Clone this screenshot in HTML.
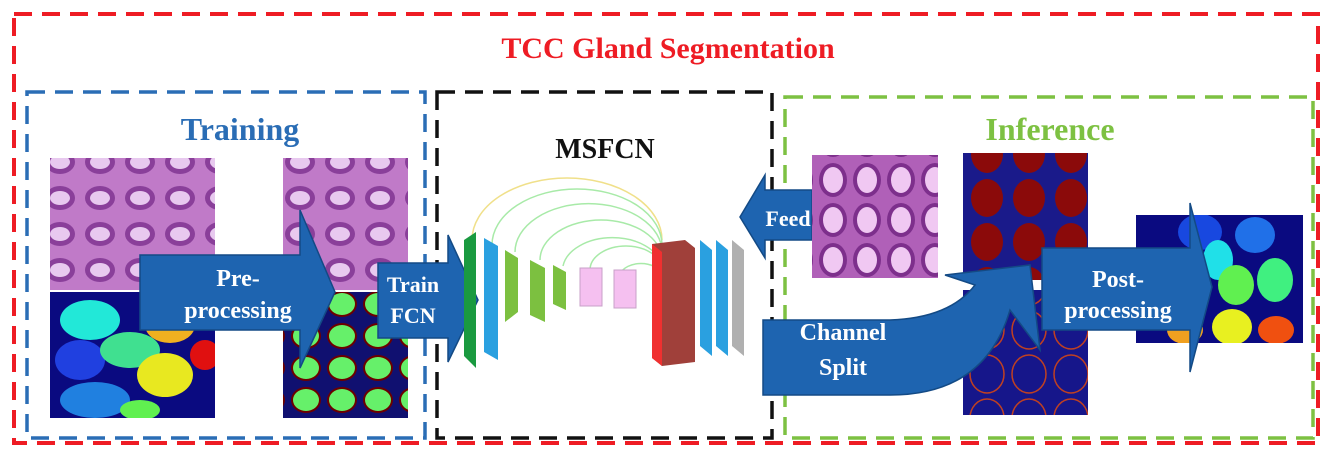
<!DOCTYPE html>
<html><head><meta charset="utf-8"><style>
html,body{margin:0;padding:0;background:#fff;width:1332px;height:463px;overflow:hidden}
svg{display:block;font-family:"Liberation Serif",serif;font-weight:bold}
</style></head><body>
<svg width="1332" height="463" viewBox="0 0 1332 463">
<defs>
<pattern id="histo" width="40" height="36" patternUnits="userSpaceOnUse">
<rect width="40" height="36" fill="#c07ac8"/>
<ellipse cx="20" cy="18" rx="15" ry="12" fill="#8a3f9a"/>
<ellipse cx="20" cy="18" rx="10" ry="7" fill="#e8c9ef"/>
</pattern>
<pattern id="histo2" width="34" height="40" patternUnits="userSpaceOnUse">
<rect width="34" height="40" fill="#b060b8"/>
<ellipse cx="17" cy="20" rx="14" ry="17" fill="#7d2f8c"/>
<ellipse cx="17" cy="20" rx="10" ry="13" fill="#f0c8f2"/>
</pattern>
<pattern id="redblue" width="42" height="44" patternUnits="userSpaceOnUse">
<rect width="42" height="44" fill="#1a1a8a"/>
<ellipse cx="21" cy="22" rx="16" ry="19" fill="#8b0a0a"/>
</pattern>
<pattern id="ringblue" width="42" height="44" patternUnits="userSpaceOnUse">
<rect width="42" height="44" fill="#16168a"/>
<ellipse cx="21" cy="22" rx="17" ry="19" fill="none" stroke="#c04020" stroke-width="1.5"/>
</pattern>
<pattern id="greenseg" width="36" height="32" patternUnits="userSpaceOnUse">
<rect width="36" height="32" fill="#101070"/>
<ellipse cx="18" cy="16" rx="15" ry="13" fill="#6b0000"/>
<ellipse cx="18" cy="16" rx="13" ry="11" fill="#66f06a"/>
</pattern>
<clipPath id="clipL"><rect x="50" y="292" width="165" height="126"/></clipPath>
<clipPath id="clipR"><rect x="1136" y="215" width="167" height="128"/></clipPath>
</defs>

<rect x="14" y="14" width="1304" height="429" fill="none" stroke="#ee1c24" stroke-width="4" stroke-dasharray="18 10"/>
<text x="668" y="58" text-anchor="middle" font-size="30" fill="#ee1c24">TCC Gland Segmentation</text>

<rect x="27" y="92" width="398" height="346" fill="none" stroke="#2a6db5" stroke-width="3.5" stroke-dasharray="18 10"/>
<text x="240" y="140" text-anchor="middle" font-size="32" fill="#2a6db5">Training</text>

<rect x="437" y="92" width="335" height="346" fill="none" stroke="#111" stroke-width="3.5" stroke-dasharray="18 10"/>
<text x="605" y="158" text-anchor="middle" font-size="28" fill="#111">MSFCN</text>

<rect x="785" y="97" width="528" height="341" fill="none" stroke="#7dc142" stroke-width="3.5" stroke-dasharray="18 10"/>
<text x="1050" y="140" text-anchor="middle" font-size="32" fill="#7dc142">Inference</text>

<rect x="50" y="158" width="165" height="132" fill="url(#histo)"/>
<g clip-path="url(#clipL)">
<rect x="50" y="292" width="165" height="126" fill="#0a0a80"/>
<ellipse cx="90" cy="320" rx="30" ry="20" fill="#22e8d8"/>
<ellipse cx="80" cy="360" rx="25" ry="20" fill="#2040e0"/>
<ellipse cx="130" cy="350" rx="30" ry="18" fill="#40e090"/>
<ellipse cx="170" cy="325" rx="25" ry="18" fill="#f0b020"/>
<ellipse cx="165" cy="375" rx="28" ry="22" fill="#e8e820"/>
<ellipse cx="95" cy="400" rx="35" ry="18" fill="#2080e0"/>
<ellipse cx="140" cy="410" rx="20" ry="10" fill="#60f050"/>
<ellipse cx="205" cy="355" rx="15" ry="15" fill="#e01010"/>
</g>
<rect x="283" y="158" width="125" height="132" fill="url(#histo)"/>
<rect x="283" y="292" width="125" height="126" fill="url(#greenseg)"/>

<g>
<polygon points="140,255 300,255 300,210 335,292 300,368 300,330 140,330" fill="#1e64b0" stroke="#134a85" stroke-width="1.5"/>
<text x="238" y="286" text-anchor="middle" font-size="24" fill="#fff">Pre-</text>
<text x="238" y="318" text-anchor="middle" font-size="24" fill="#fff">processing</text>
</g>
<g>
<polygon points="378,263 448,263 448,235 478,300 448,362 448,338 378,338" fill="#1e64b0" stroke="#134a85" stroke-width="1.5"/>
<text x="413" y="292" text-anchor="middle" font-size="22" fill="#fff">Train</text>
<text x="413" y="323" text-anchor="middle" font-size="22" fill="#fff">FCN</text>
</g>

<g fill="none" stroke-width="1.5">
<path d="M472,240 A95,62 0 0 1 662,240" stroke="#f0e08a"/>
<path d="M492,245 A85,56 0 0 1 662,245" stroke="#a8eaa8"/>
<path d="M515,252 A73,48 0 0 1 662,252" stroke="#a8eaa8"/>
<path d="M540,260 A61,40 0 0 1 662,260" stroke="#a8eaa8"/>
<path d="M563,266 A50,33 0 0 1 662,266" stroke="#a8eaa8"/>
<path d="M590,270 A36,24 0 0 1 662,270" stroke="#a8eaa8"/>
<path d="M620,274 A22,15 0 0 1 662,274" stroke="#a8eaa8"/>
</g>
<g>
<polygon points="464,240 476,232 476,368 464,356" fill="#1a9a40"/>
<polygon points="484,238 498,246 498,360 484,352" fill="#2aa0e0"/>
<polygon points="505,250 518,258 518,312 505,322" fill="#7cc040"/>
<polygon points="530,260 545,268 545,322 530,315" fill="#7cc040"/>
<polygon points="553,265 566,272 566,310 553,304" fill="#7cc040"/>
<rect x="580" y="268" width="22" height="38" fill="#f5c0f0" stroke="#c8a0c8"/>
<rect x="614" y="270" width="22" height="38" fill="#f5c0f0" stroke="#c8a0c8"/>
<polygon points="652,244 685,240 695,248 695,362 662,366 652,358" fill="#a0403a"/>
<polygon points="652,244 662,252 662,366 652,358" fill="#f03030"/>
<polygon points="700,240 712,250 712,356 700,346" fill="#2aa0e0"/>
<polygon points="716,240 728,250 728,356 716,346" fill="#2aa0e0"/>
<polygon points="732,240 744,250 744,356 732,346" fill="#b0b0b0"/>
</g>

<g>
<polygon points="812,190 765,190 765,175 740,217 765,258 765,240 812,240" fill="#1e64b0" stroke="#134a85" stroke-width="1.5"/>
<text x="788" y="226" text-anchor="middle" font-size="22" fill="#fff">Feed</text>
</g>
<rect x="812" y="155" width="126" height="123" fill="url(#histo2)"/>
<rect x="963" y="153" width="125" height="127" fill="url(#redblue)"/>
<rect x="963" y="290" width="125" height="125" fill="url(#ringblue)"/>
<g>
<path d="M763,320 L890,320 Q950,318 975,285 L945,275 L1030,265 L1040,350 L1010,310 Q985,395 890,395 L763,395 Z" fill="#1e64b0" stroke="#134a85" stroke-width="1.5"/>
<text x="843" y="340" text-anchor="middle" font-size="24" fill="#fff">Channel</text>
<text x="843" y="375" text-anchor="middle" font-size="24" fill="#fff">Split</text>
</g>
<g clip-path="url(#clipR)">
<rect x="1136" y="215" width="167" height="128" fill="#0a0a80"/>
<ellipse cx="1200" cy="232" rx="22" ry="18" fill="#1848e0"/>
<ellipse cx="1255" cy="235" rx="20" ry="18" fill="#2070e8"/>
<ellipse cx="1218" cy="260" rx="15" ry="20" fill="#20e0e8"/>
<ellipse cx="1236" cy="285" rx="18" ry="20" fill="#60f050"/>
<ellipse cx="1275" cy="280" rx="18" ry="22" fill="#40f080"/>
<ellipse cx="1232" cy="327" rx="20" ry="18" fill="#e8f020"/>
<ellipse cx="1185" cy="330" rx="18" ry="14" fill="#f0a020"/>
<ellipse cx="1276" cy="330" rx="18" ry="14" fill="#f05010"/>
</g>
<g>
<polygon points="1042,248 1190,248 1190,203 1212,287 1190,372 1190,330 1042,330" fill="#1e64b0" stroke="#134a85" stroke-width="1.5"/>
<text x="1118" y="287" text-anchor="middle" font-size="24" fill="#fff">Post-</text>
<text x="1118" y="318" text-anchor="middle" font-size="24" fill="#fff">processing</text>
</g>
</svg>
</body></html>
